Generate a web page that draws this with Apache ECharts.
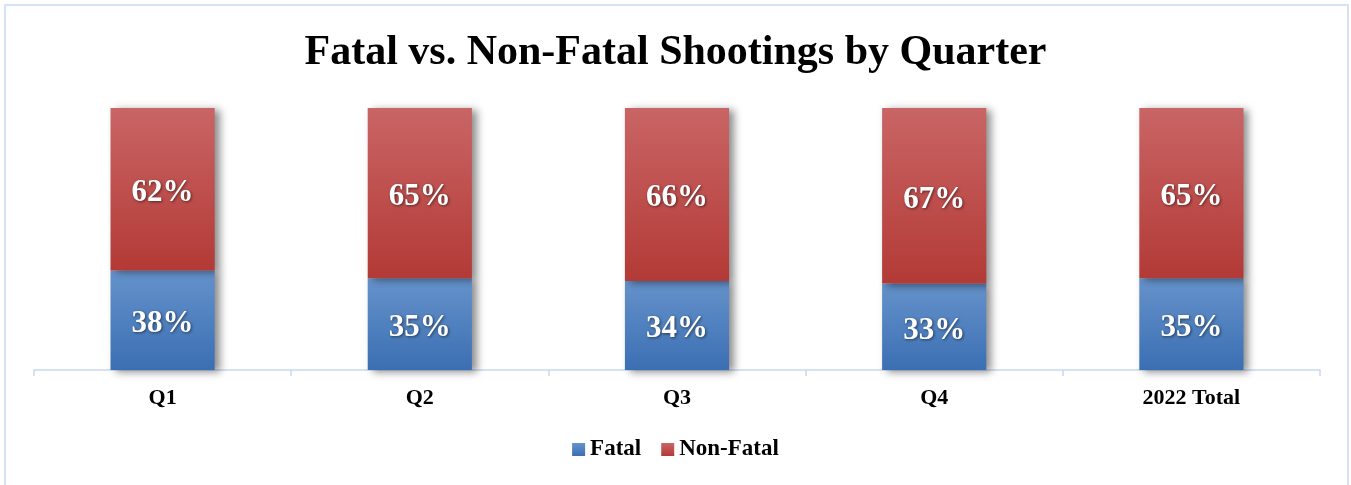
<!DOCTYPE html>
<html>
<head>
<meta charset="utf-8">
<script src="https://cdn.jsdelivr.net/npm/echarts@6/dist/echarts.min.js"></script>
<style>
html,body{margin:0;padding:0;background:#fff;}
#chart{width:1351px;height:485px;}
</style>
</head>
<body>
<div id="chart"></div>
<script>
const categories = ['Q1', 'Q2', 'Q3', 'Q4', '2022 Total'];
const fatal = [38, 35, 34, 33, 35];
const nonFatal = [62, 65, 66, 67, 65];
const titleText = 'Fatal vs. Non-Fatal Shootings by Quarter';

const serif = '"Liberation Serif", "DejaVu Serif", serif';
const chart = echarts.init(document.getElementById('chart'), null, {renderer: 'canvas'});

const labelStyle = {
  show: true,
  position: 'inside',
  offset: [0, 4],
  formatter: p => p.value + '%',
  color: '#fff',
  fontFamily: serif,
  fontWeight: 'bold',
  fontSize: 31,
  textShadowColor: 'rgba(0,0,0,0.55)',
  textShadowBlur: 3,
  textShadowOffsetX: 1,
  textShadowOffsetY: 1
};

chart.setOption({
  animation: false,
  graphic: [{
    type: 'rect',
    shape: {x: 5, y: 5, width: 1343, height: 482},
    style: {fill: 'none', stroke: '#d6e3f4', lineWidth: 2},
    silent: true
  }],
  title: {
    text: titleText,
    left: 'center',
    top: 27,
    textStyle: {fontFamily: serif, fontWeight: 'bold', fontSize: 42, color: '#000'}
  },
  legend: {
    bottom: 19,
    left: 'center',
    itemWidth: 13,
    itemHeight: 13,
    itemGap: 20,
    icon: 'rect',
    textStyle: {fontFamily: serif, fontWeight: 'bold', fontSize: 23, color: '#000', padding: [0,0,0,0]},
    data: ['Fatal', 'Non-Fatal']
  },
  grid: {left: 34, right: 31, top: 108, bottom: 115, containLabel: false},
  xAxis: {
    type: 'category',
    data: categories,
    axisLine: {lineStyle: {color: '#c6d9f0', width: 1.5}},
    axisTick: {show: true, length: 6, lineStyle: {color: '#c6d9f0', width: 1.5}},
    axisLabel: {fontFamily: serif, fontWeight: 'bold', fontSize: 22, color: '#000', margin: 17}
  },
  yAxis: {
    type: 'value',
    min: 0,
    max: 100,
    show: false
  },
  series: [
    {
      name: 'Fatal',
      type: 'bar',
      stack: 'total',
      barWidth: '40.5%',
      data: fatal,
      itemStyle: {
        color: new echarts.graphic.LinearGradient(0, 0, 0, 1, [
          {offset: 0, color: '#6592cb'},
          {offset: 1, color: '#3b6fb3'}
        ]),
        shadowColor: 'rgba(0,0,0,0.45)',
        shadowBlur: 8,
        shadowOffsetX: 5,
        shadowOffsetY: 2
      },
      label: labelStyle
    },
    {
      name: 'Non-Fatal',
      type: 'bar',
      stack: 'total',
      data: nonFatal,
      itemStyle: {
        color: new echarts.graphic.LinearGradient(0, 0, 0, 1, [
          {offset: 0, color: '#c96565'},
          {offset: 1, color: '#b33a36'}
        ]),
        shadowColor: 'rgba(0,0,0,0.45)',
        shadowBlur: 8,
        shadowOffsetX: 5,
        shadowOffsetY: 2
      },
      label: labelStyle
    }
  ]
});
</script>
</body>
</html>
